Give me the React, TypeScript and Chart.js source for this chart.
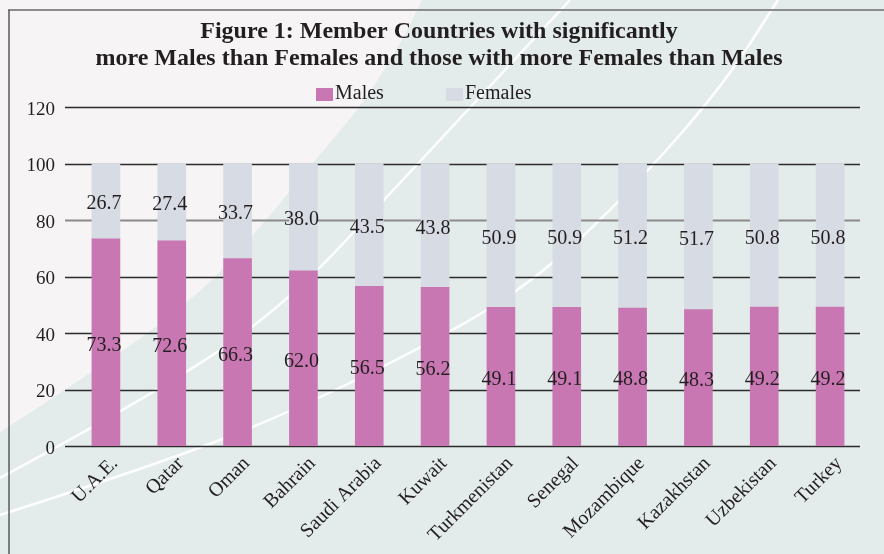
import React, { useEffect, useRef } from "react";
import { Chart, registerables } from "chart.js";

Chart.register(...registerables);

const categories = [
  "U.A.E.",
  "Qatar",
  "Oman",
  "Bahrain",
  "Saudi Arabia",
  "Kuwait",
  "Turkmenistan",
  "Senegal",
  "Mozambique",
  "Kazakhstan",
  "Uzbekistan",
  "Turkey",
];
const males = [73.3, 72.6, 66.3, 62.0, 56.5, 56.2, 49.1, 49.1, 48.8, 48.3, 49.2, 49.2];
const females = [26.7, 27.4, 33.7, 38.0, 43.5, 43.8, 50.9, 50.9, 51.2, 51.7, 50.8, 50.8];
const seriesNames = ["Males", "Females"];
const titleLines = [
  "Figure 1: Member Countries with significantly",
  "more Males than Females and those with more Females than Males",
];
const yMin = 0;
const yMax = 120;
const yStep = 20;

const MALE_COLOR = "#C977B2";
const FEMALE_COLOR = "#D7DBE3";
const TEXT_COLOR = "#231F20";
const SERIF = "'Liberation Serif', 'Times New Roman', serif";

function smoothPath(ctx: CanvasRenderingContext2D, pts: number[][]) {
  ctx.moveTo(pts[0][0], pts[0][1]);
  for (let i = 1; i < pts.length - 1; i++) {
    const mx = (pts[i][0] + pts[i + 1][0]) / 2;
    const my = (pts[i][1] + pts[i + 1][1]) / 2;
    ctx.quadraticCurveTo(pts[i][0], pts[i][1], mx, my);
  }
  const last = pts[pts.length - 1];
  ctx.lineTo(last[0], last[1]);
}

const backgroundPlugin = {
  id: "bgDeco",
  beforeDraw(chart: any) {
    const { ctx, width, height } = chart;
    ctx.save();
    ctx.fillStyle = "#F6F4F5";
    ctx.fillRect(0, 0, width, height);
    ctx.fillStyle = "#E4ECEB";
    ctx.beginPath();
    smoothPath(ctx, [
      [0, 432],
      [85, 378],
      [200, 295],
      [265, 222],
      [315, 160],
      [360, 108],
      [400, 45],
      [422, 0],
    ]);
    ctx.lineTo(width, 0);
    ctx.lineTo(width, height);
    ctx.lineTo(0, height);
    ctx.closePath();
    ctx.fill();

    ctx.strokeStyle = "rgba(255,255,255,0.95)";
    ctx.lineWidth = 2.5;
    ctx.beginPath();
    smoothPath(ctx, [
      [0, 515],
      [150, 467],
      [290, 413],
      [450, 333],
      [535, 280],
      [620, 202],
      [720, 90],
      [778, 0],
    ]);
    ctx.stroke();
    ctx.beginPath();
    smoothPath(ctx, [
      [0, 478],
      [157, 393],
      [283, 307],
      [387, 197],
      [477, 100],
      [570, 0],
    ]);
    ctx.stroke();

    // frame
    ctx.strokeStyle = "#8C8C8C";
    ctx.lineWidth = 2;
    ctx.beginPath();
    ctx.moveTo(8, 10);
    ctx.lineTo(width, 10);
    ctx.stroke();
    ctx.strokeStyle = "#5A5A5A";
    ctx.lineWidth = 1.5;
    ctx.beginPath();
    ctx.moveTo(9, 10);
    ctx.lineTo(9, height);
    ctx.stroke();
    ctx.restore();
  },
};

const gridPlugin = {
  id: "wideGrid",
  beforeDatasetsDraw(chart: any) {
    const { ctx } = chart;
    const y = chart.scales.y;
    ctx.save();
    y.ticks.forEach((t: any) => {
      const py = Math.round(y.getPixelForValue(t.value)) + 0.5;
      const isGray = t.value === 80;
      ctx.strokeStyle = isGray ? "#8A8A8A" : "#2B2B2B";
      ctx.lineWidth = isGray ? 2 : 1.5;
      ctx.beginPath();
      ctx.moveTo(65, py);
      ctx.lineTo(860, py);
      ctx.stroke();
    });
    ctx.restore();
  },
};

const titleLegendPlugin = {
  id: "titleLegend",
  afterDraw(chart: any) {
    const { ctx } = chart;
    ctx.save();
    ctx.fillStyle = TEXT_COLOR;
    ctx.font = `bold 24px ${SERIF}`;
    ctx.textAlign = "center";
    ctx.textBaseline = "alphabetic";
    ctx.fillText(titleLines[0], 439, 38);
    ctx.fillText(titleLines[1], 439, 65);

    ctx.font = `20px ${SERIF}`;
    ctx.textAlign = "left";
    const items = [
      { x: 316, color: MALE_COLOR, label: seriesNames[0] },
      { x: 446, color: FEMALE_COLOR, label: seriesNames[1] },
    ];
    items.forEach((it) => {
      ctx.fillStyle = it.color;
      ctx.fillRect(it.x, 88, 17, 13);
      ctx.fillStyle = TEXT_COLOR;
      ctx.fillText(it.label, it.x + 19, 99);
    });
    ctx.restore();
  },
};

const dataLabelPlugin = {
  id: "segLabels",
  afterDatasetsDraw(chart: any) {
    const { ctx } = chart;
    ctx.save();
    ctx.fillStyle = TEXT_COLOR;
    ctx.font = `20px ${SERIF}`;
    ctx.textAlign = "center";
    ctx.textBaseline = "middle";
    chart.data.datasets.forEach((ds: any, di: number) => {
      const meta = chart.getDatasetMeta(di);
      meta.data.forEach((bar: any, i: number) => {
        const p = bar.getProps(["x", "y", "base"], true);
        const cy = (p.y + p.base) / 2 + 3;
        ctx.fillText(Number(ds.data[i]).toFixed(1), p.x - 2, cy);
      });
    });
    ctx.restore();
  },
};

export default function App() {
  const canvasRef = useRef<HTMLCanvasElement | null>(null);

  useEffect(() => {
    if (!canvasRef.current) return;
    const chart = new Chart(canvasRef.current, {
      type: "bar",
      data: {
        labels: categories,
        datasets: [
          {
            label: seriesNames[0],
            data: males,
            backgroundColor: MALE_COLOR,
            borderWidth: 0,
            barThickness: 28,
          },
          {
            label: seriesNames[1],
            data: females,
            backgroundColor: FEMALE_COLOR,
            borderWidth: 0,
            barThickness: 28,
          },
        ],
      },
      options: {
        responsive: false,
        animation: false,
        layout: { padding: { top: 107, right: 21, left: 0, bottom: 0 } },
        plugins: {
          legend: { display: false },
          title: { display: false },
          tooltip: { enabled: false },
        },
        scales: {
          x: {
            stacked: true,
            grid: { display: false, drawTicks: false },
            border: { display: false },
            ticks: {
              autoSkip: false,
              maxRotation: 45,
              minRotation: 45,
              padding: 6,
              labelOffset: 9,
              color: TEXT_COLOR,
              font: { family: SERIF, size: 20 },
            },
            afterFit: (scale: any) => {
              scale.height = 108;
            },
          },
          y: {
            stacked: true,
            min: yMin,
            max: yMax,
            border: { display: false },
            grid: { display: false, drawTicks: false },
            ticks: {
              stepSize: yStep,
              padding: 18,
              labelOffset: 3,
              color: TEXT_COLOR,
              font: { family: SERIF, size: 19 },
            },
            afterFit: (scale: any) => {
              scale.width = 73;
            },
          },
        },
      },
      plugins: [backgroundPlugin, gridPlugin, titleLegendPlugin, dataLabelPlugin],
    });
    return () => chart.destroy();
  }, []);

  return (
    <div style={{ position: "absolute", left: 0, top: 0, width: 884, height: 554 }}>
      <canvas ref={canvasRef} width={884} height={554} style={{ display: "block" }} />
    </div>
  );
}
